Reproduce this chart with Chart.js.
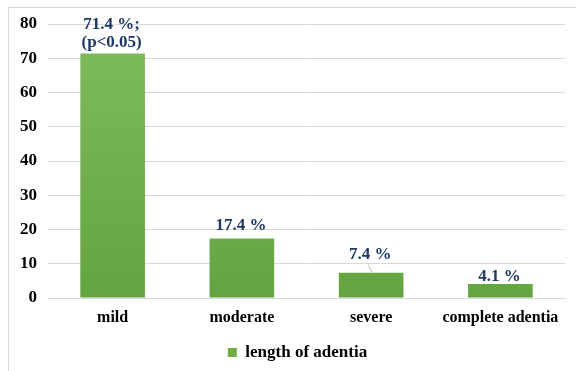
<!DOCTYPE html>
<html>
<head>
<meta charset="utf-8">
<script src="https://cdn.jsdelivr.net/npm/chart.js@4"></script>
<style>
    html, body { margin: 0; padding: 0; background: #ffffff; }
    #wrap { position: relative; width: 576px; height: 371px; }
    #frame {
        position: absolute; left: 8px; top: 7px; right: -2px; bottom: -2px;
        border: 1px solid #d9d9d9; pointer-events: none;
    }
</style>
</head>
<body>
<div id="wrap">
    <canvas id="chart" width="576" height="371"></canvas>
    <div id="frame"></div>
</div>
<script>
// Chart data
const categories = ['mild', 'moderate', 'severe', 'complete adentia'];
const values = [71.4, 17.4, 7.4, 4.1];
const valueLabels = [['71.4 %;', '(p<0.05)'], ['17.4 %'], ['7.4 %'], ['4.1 %']];
const yTicks = [0, 10, 20, 30, 40, 50, 60, 70, 80];
const seriesName = 'length of adentia';

const SERIF = '"Liberation Serif", "Times New Roman", serif';

/**
 * Value labels above each bar (gap in px above the bar top, optional leader line)
 */
const barLabels = {
    id: 'barLabels',
    afterDatasetsDraw(chart, args, opts) {
        const ctx = chart.ctx;
        const meta = chart.getDatasetMeta(0);
        ctx.save();
        ctx.font = `bold 17px ${SERIF}`;
        ctx.fillStyle = '#1f3864';
        ctx.textAlign = 'center';
        ctx.textBaseline = 'middle';
        meta.data.forEach((bar, i) => {
            const lines = valueLabels[i];
            const gap = opts.gaps[i];
            const lineH = 18;
            const lastY = bar.y - gap;
            lines.forEach((txt, j) => {
                ctx.fillText(txt, bar.x - 1, lastY - (lines.length - 1 - j) * lineH);
            });
            if (opts.leaders[i]) {
                ctx.strokeStyle = '#bfbfbf';
                ctx.lineWidth = 1;
                ctx.beginPath();
                ctx.moveTo(bar.x - 3, lastY + 10);
                ctx.lineTo(bar.x + 1, bar.y);
                ctx.stroke();
            }
        });
        ctx.restore();
    }
};

// legend sits a little right of the centre line
const legendShift = {
    id: 'legendShift',
    afterLayout(chart, args, opts) {
        chart.legend.left += opts.dx;
        chart.legend.right += opts.dx;
    }
};

const ctx = document.getElementById('chart').getContext('2d');

function barGradient(context) {
    const area = context.chart.chartArea;
    if (!area) return '#70ad47';
    const g = context.chart.ctx.createLinearGradient(0, area.top, 0, area.bottom);
    g.addColorStop(0, '#80bc5e');
    g.addColorStop(1, '#64a440');
    return g;
}

new Chart(ctx, {
    type: 'bar',
    data: {
        labels: categories,
        datasets: [{
            label: seriesName,
            data: values,
            backgroundColor: barGradient,
            borderWidth: 0,
            categoryPercentage: 1.0,
            barPercentage: 0.5
        }]
    },
    options: {
        responsive: false,
        animation: false,
        layout: { padding: { left: 10, right: 11, top: 24, bottom: 0 } },
        plugins: {
            legend: {
                position: 'bottom',
                labels: {
                    boxWidth: 9,
                    boxHeight: 9,
                    padding: 10,
                    color: '#000000',
                    font: { family: SERIF, size: 17, weight: 'bold' },
                    generateLabels: (chart) => [{
                        text: seriesName,
                        fillStyle: '#70ad47',
                        strokeStyle: '#70ad47',
                        lineWidth: 0,
                        datasetIndex: 0
                    }]
                }
            },
            legendShift: { dx: 10 },
            tooltip: { enabled: false },
            barLabels: {
                gaps: [11, 13, 18, 7],
                leaders: [false, false, true, false]
            }
        },
        scales: {
            x: {
                grid: { display: false, drawTicks: false },
                border: { display: true, color: '#d9d9d9' },
                ticks: {
                    color: '#000000',
                    padding: 10,
                    font: { family: SERIF, size: 16, weight: 'bold' }
                },
                afterFit: (scale) => { scale.height = 36; }
            },
            y: {
                min: 0,
                max: 80,
                afterBuildTicks: (scale) => { scale.ticks = yTicks.map(v => ({ value: v })); },
                grid: { color: '#d9d9d9', drawTicks: false },
                border: { display: false },
                ticks: {
                    color: '#000000',
                    padding: 11,
                    font: { family: SERIF, size: 17, weight: 'bold' }
                },
                afterFit: (scale) => { scale.width = 38; }
            }
        }
    },
    plugins: [barLabels, legendShift]
});
</script>
</body>
</html>
